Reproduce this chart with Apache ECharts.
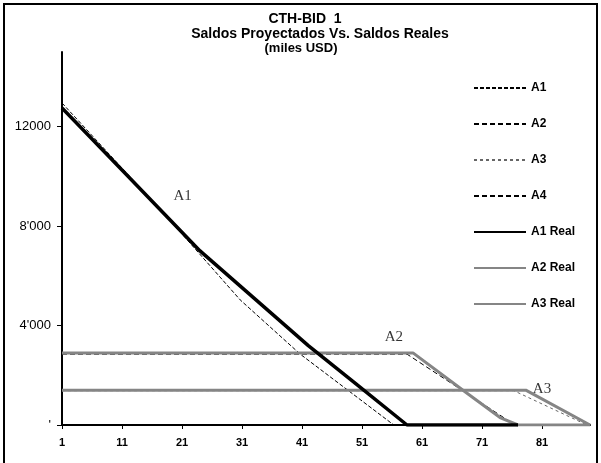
<!DOCTYPE html>
<html>
<head>
<meta charset="utf-8">
<script src="https://cdn.jsdelivr.net/npm/echarts@6/dist/echarts.min.js"></script>
<style>
html,body{margin:0;padding:0;background:#fff;}
#box{width:601px;height:463px;}
</style>
</head>
<body>
<div id="box"></div>
<script>
// ticks
var xTicks = [1, 11, 21, 31, 41, 51, 61, 71, 81];
var yTicks = [0, 4000, 8000, 12000];
var yTickLabels = ["'", "4'000", "8'000", "12000"];

// series: [periodo, saldo]
var a1 = [[1, 12950], [18, 8500], [30.7, 5030], [40.7, 2850], [56.3, 0]];
var a2 = [[1, 2850], [58.5, 2850], [76.5, 0]];
var a3 = [[1, 1380], [76.3, 1380], [88.5, 0]];
var a4 = [[1, 0], [89, 0]];
var a1Real = [[1, 12750], [12, 10000], [24, 7000], [33, 5100], [42, 3200], [50, 1650], [58.5, 0], [77, 0]];
var a2Real = [[1, 2900], [59.5, 2900], [68, 1370], [74, 300], [77, 0], [89, 0]];
var a3Real = [[1, 1400], [78.3, 1400], [89, 0]];

// textos sobre las lineas
var noteNames = ['A1', 'A2', 'A3'];
var notePos = [[21.1, 9200], [56.3, 3550], [81, 1450]];

function shift(d){
	var out = [];
	for(var i in d){
		out.push([d[i][0] - 1, d[i][1]]);
	}
	return out;
}

function line(name, data, color, width, type){
	return {
		name: name,
		type: 'line',
		symbol: 'none',
		silent: true,
		lineStyle: {color: color, width: width, type: type},
		itemStyle: {color: color},
		data: shift(data)
	};
}

var notes = [];
for(var i in noteNames){
	notes.push({name: noteNames[i], value: [notePos[i][0] - 1, notePos[i][1]]});
}

var txt = {fontFamily: 'Liberation Sans', fontWeight: 'bold', color: '#000'};

var mychar = echarts.init(document.getElementById('box'));
var option = {
	animation: false,
	backgroundColor: '#fff',
	title: [{
		text: 'CTH-BID  1', left: 300, top: 7, textAlign: 'center',
		textStyle: Object.assign({fontSize: 14}, txt)
	}, {
		text: 'Saldos Proyectados Vs. Saldos Reales', left: 315, top: 22, textAlign: 'center',
		textStyle: Object.assign({fontSize: 14}, txt)
	}, {
		text: '(miles USD)', left: 296, top: 37, textAlign: 'center',
		textStyle: Object.assign({fontSize: 13}, txt)
	}],
	graphic: [{
		type: 'rect',
		shape: {x: 4, y: 4, width: 593, height: 480},
		style: {fill: 'none', stroke: '#000', lineWidth: 2},
		silent: true
	}],
	legend: {
		orient: 'vertical',
		left: 468, top: 77,
		itemWidth: 52, itemHeight: 10, itemGap: 24,
		itemStyle: {opacity: 0},
		textStyle: Object.assign({fontSize: 12}, txt),
		data: ['A1', 'A2', 'A3', 'A4', 'A1 Real', 'A2 Real', 'A3 Real']
	},
	grid: {left: 62, right: 11, top: 52, bottom: 38},
	xAxis: {
		type: 'value', min: 0, max: 88,
		axisLine: {lineStyle: {color: '#000', width: 2}},
		axisTick: {show: true, length: 4, customValues: xTicks.map(function(v){return v - 1;}), lineStyle: {color: '#000'}},
		axisLabel: {
			customValues: xTicks.map(function(v){return v - 1;}),
			formatter: function(v){ return String(v + 1); },
			fontFamily: 'Liberation Sans', fontSize: 11, fontWeight: 'bold', color: '#000', margin: 12
		},
		splitLine: {show: false}
	},
	yAxis: {
		type: 'value', min: 0, max: 15000,
		axisLine: {show: true, lineStyle: {color: '#000', width: 2}},
		axisTick: {show: true, length: 5, customValues: yTicks, lineStyle: {color: '#000'}},
		axisLabel: {
			customValues: yTicks,
			formatter: function(v){ return yTickLabels[yTicks.indexOf(v)]; },
			fontFamily: 'Liberation Sans', fontSize: 13, color: '#000', margin: 11
		},
		splitLine: {show: false}
	},
	series: [
		line('A1', a1, '#000', 1, [4, 2]),
		line('A2', a2, '#000', 1, [5, 3]),
		line('A3', a3, '#666', 1, [3, 3]),
		line('A4', a4, '#000', 1, [5, 3]),
		line('A2 Real', a2Real, '#858585', 3, 'solid'),
		line('A3 Real', a3Real, '#858585', 3, 'solid'),
		line('A1 Real', a1Real, '#000', 3.5, 'solid'),
		{
			type: 'scatter', symbolSize: 0, silent: true,
			label: {show: true, position: 'inside', formatter: '{b}', fontFamily: 'Liberation Serif', fontSize: 15, color: '#000'},
			data: notes
		}
	]
};
mychar.setOption(option);
</script>
</body>
</html>
